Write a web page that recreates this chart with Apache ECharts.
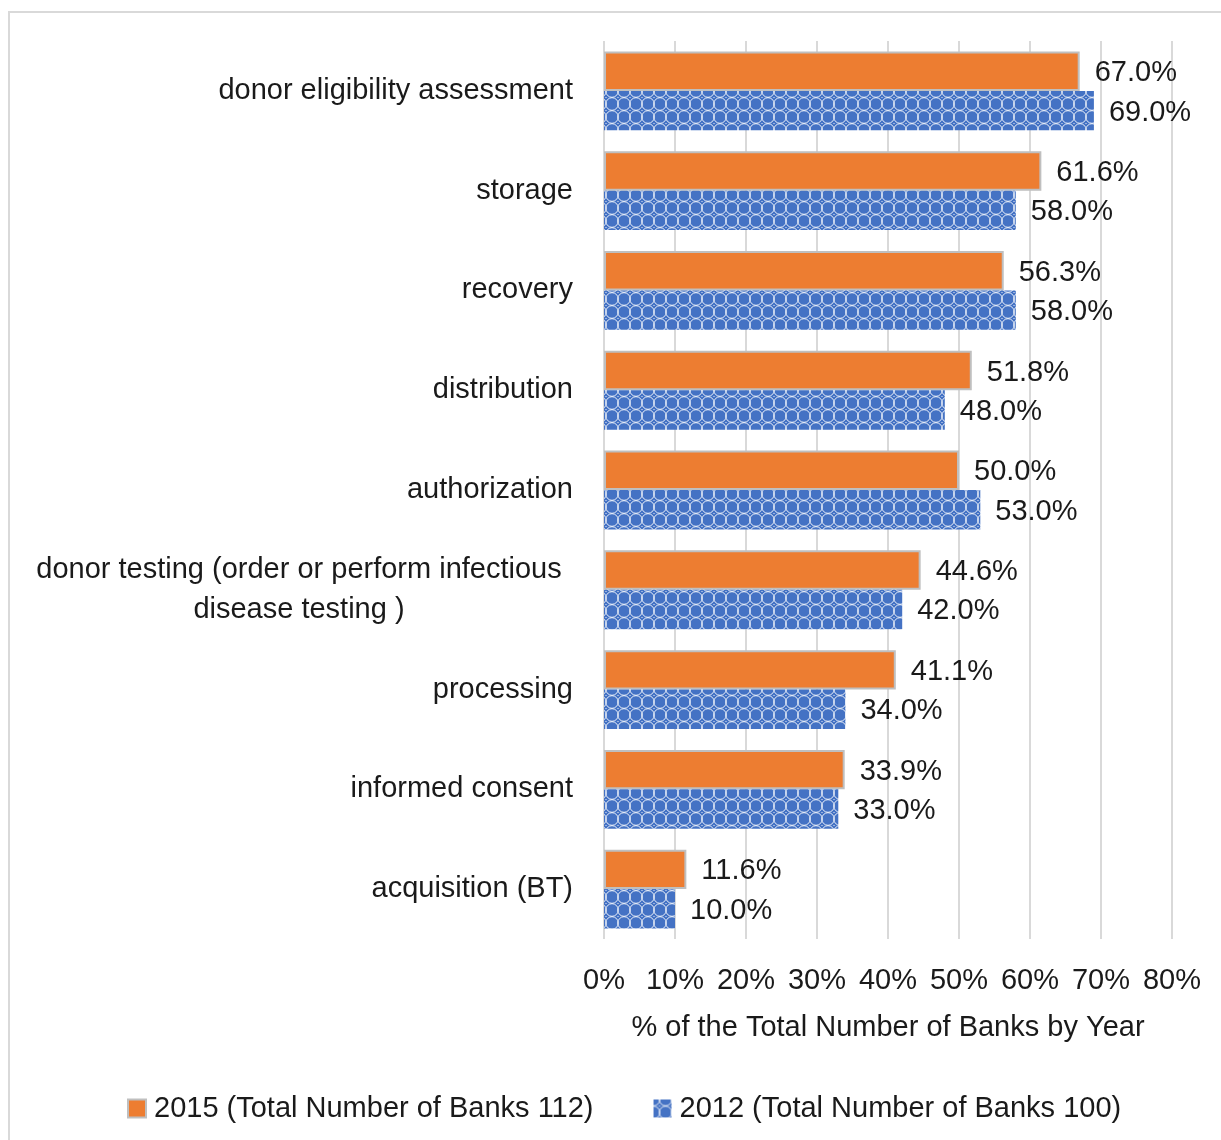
<!DOCTYPE html>
<html>
<head>
<meta charset="utf-8">
<script src="https://cdn.jsdelivr.net/npm/echarts@6/dist/echarts.min.js"></script>
<style>
html,body{margin:0;padding:0;background:#fff;}
#chart{width:1221px;height:1140px;}
</style>
</head>
<body>
<div id="chart"></div>
<script>
const categories = [
  "donor eligibility assessment",
  "storage",
  "recovery",
  "distribution",
  "authorization",
  "donor testing (order or perform infectious\ndisease testing )",
  "processing",
  "informed consent",
  "acquisition (BT)"
];
const values2015 = [67.0, 61.6, 56.3, 51.8, 50.0, 44.6, 41.1, 33.9, 11.6];
const values2012 = [69.0, 58.0, 58.0, 48.0, 53.0, 42.0, 34.0, 33.0, 10.0];
const seriesNames = ["2015 (Total Number of Banks 112)", "2012 (Total Number of Banks 100)"];
const xTicks = [0, 10, 20, 30, 40, 50, 60, 70, 80];

function makePattern() {
  const c = document.createElement('canvas');
  c.width = 12; c.height = 13;
  const g = c.getContext('2d');
  g.fillStyle = '#4472C4';
  g.fillRect(0, 0, 12, 13);
  g.strokeStyle = 'rgba(255,255,255,0.85)';
  g.lineWidth = 1;
  const pts = [[0,0],[12,0],[0,13],[12,13]];
  pts.forEach(p => { g.beginPath(); g.arc(p[0], p[1], 6.3, 0, Math.PI*2); g.stroke(); });
  g.fillStyle = 'rgba(255,255,255,0.9)';
  g.fillRect(5.5, 6, 1, 1);
  return c;
}
const pattern = { image: makePattern(), repeat: 'repeat' };

const FONT = '"Liberation Sans", Arial, sans-serif';
const chart = echarts.init(document.getElementById('chart'), null, {renderer: 'canvas'});
chart.setOption({
  backgroundColor: '#fff',
  animation: false,
  textStyle: { fontFamily: FONT },
  graphic: [{
    type: 'polyline',
    shape: { points: [[9, 1140], [9, 12], [1221, 12]] },
    style: { stroke: '#d9d9d9', lineWidth: 2, fill: null },
    silent: true
  }],
  grid: { left: 604, right: 49, top: 41, bottom: 201, containLabel: false },
  legend: {
    bottom: 12,
    left: 122,
    itemWidth: 18,
    itemHeight: 18,
    itemGap: 60,
    icon: 'rect',
    textStyle: { fontSize: 29, color: '#1a1a1a', fontFamily: FONT, padding: [0, 0, 0, 3] },
    data: seriesNames
  },
  xAxis: {
    type: 'value',
    min: 0, max: 80, interval: 10,
    axisLine: { show: false },
    axisTick: { show: false },
    splitLine: { show: true, lineStyle: { color: '#d9d9d9', width: 2 } },
    axisLabel: { fontSize: 29, color: '#1a1a1a', margin: 27, formatter: v => v + '%' },
    name: '% of the Total Number of Banks by Year',
    nameLocation: 'middle',
    nameGap: 74,
    nameTextStyle: { fontSize: 29, color: '#1a1a1a' }
  },
  yAxis: {
    type: 'category',
    inverse: true,
    data: categories,
    axisLine: { show: false },
    axisTick: { show: false },
    axisLabel: {
      fontSize: 29,
      color: '#1a1a1a',
      margin: 31,
      lineHeight: 40,
      formatter: function (v) {
        if (v.indexOf('\n') >= 0) {
          return v.split('\n').map(s => '{a|' + s + '}').join('\n');
        }
        return v;
      },
      rich: {
        a: { width: 548, align: 'center', fontSize: 29, lineHeight: 40, color: '#1a1a1a', fontFamily: FONT }
      }
    }
  },
  series: [
    {
      name: seriesNames[0],
      type: 'bar',
      data: values2015,
      barGap: '0%',
      barCategoryGap: '21%',
      itemStyle: { color: '#ED7D31', borderColor: '#bfbfbf', borderWidth: 2 },
      label: { show: true, position: 'right', distance: 15, fontSize: 29, color: '#1a1a1a',
        offset: [0, 2], formatter: p => p.value.toFixed(1) + '%' }
    },
    {
      name: seriesNames[1],
      type: 'bar',
      data: values2012,
      barGap: '0%',
      barCategoryGap: '21%',
      itemStyle: { color: pattern },
      label: { show: true, position: 'right', distance: 15, fontSize: 29, color: '#1a1a1a',
        offset: [0, 2], formatter: p => p.value.toFixed(1) + '%' }
    }
  ]
});
</script>
</body>
</html>
